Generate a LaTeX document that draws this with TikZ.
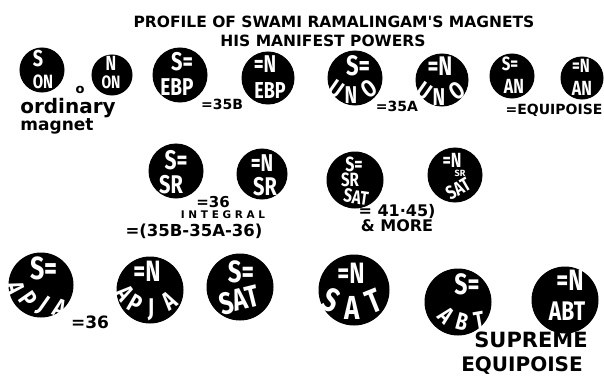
\documentclass[tikz,border=0pt]{standalone}
\usepackage{graphicx}
\usepackage{fontspec}
\setmainfont{Fira Sans}
\newfontfamily\lblfont{DejaVu Sans}
\newcommand{\tallt}[1]{\scalebox{1}[1.28]{#1}}
\begin{document}
\begin{tikzpicture}[x=1pt,y=1pt,
  magnet/.style={circle, fill=black, draw=black, line width=1pt, inner sep=0pt, minimum size=#1},
  wt/.style={text=white, font=\bfseries\fontsize{#1}{#1}\selectfont, inner sep=0pt},
  wt/.default=15,
  lbl/.style={text=black, font=\lblfont\bfseries\fontsize{#1}{#1}\selectfont, inner sep=0pt},
  lbl/.default=12]
\useasboundingbox (0,0) rectangle (604,381);
\fill[white] (0,0) rectangle (604,381);
% title
\node[lbl=15.5] (title1) at (334,359) {PROFILE OF SWAMI RAMALINGAM'S MAGNETS};
\node[lbl=15.5] (title2) at (323,340) {HIS MANIFEST POWERS};
% ---- row 1
\node[magnet=44pt] (SON) at (42,311) {};
\node[wt=18] (SONa) at (38,322) {\tallt{S}};
\node[wt=15] (SONb) at (43,299) {\tallt{ON}};
\node[magnet=40pt] (NON) at (112,306) {};
\node[wt=16] (NONa) at (111,318) {\tallt{N}};
\node[wt=14] (NONb) at (111,299) {\tallt{ON}};
\node[lbl=13] (o) at (80,291) {o};
\node[lbl=20] (ord) at (68,273) {ordinary};
\node[lbl=17] (mag) at (57,255) {magnet};
\node[magnet=54pt] (SEBP) at (180,306) {};
\node[wt=20] (SEBPa) at (182,319) {\tallt{S=}};
\node[wt=19] (SEBPb) at (177,294) {\tallt{EBP}};
\node[lbl=14] (l35B) at (222,277) {=35B};
\node[magnet=52pt] (NEBP) at (268,303) {};
\node[wt=19] (NEBPa) at (265,317) {\tallt{=N}};
\node[wt=18] (NEBPb) at (270,290) {\tallt{EBP}};
\node[magnet=54pt] (SUNO) at (355,303) {};
\node[wt=22] (SUNOa) at (358,315) {\tallt{S=}};
\foreach \ch/\px/\py/\rt [count=\i] in {U/336/292/-35, N/351/286/0, O/369/292/35}
  \node[rotate=\rt, wt=19] (SUNO-\i) at (\px,\py) {\tallt{\ch}};
\node[lbl=14] (l35A) at (397,275) {=35A};
\node[magnet=52pt] (NUNO) at (442,301) {};
\node[wt=21] (NUNOa) at (440,315) {\tallt{=N}};
\foreach \ch/\px/\py/\rt [count=\i] in {U/424/290/-35, N/439/284/0, O/457/290/35}
  \node[rotate=\rt, wt=19] (NUNO-\i) at (\px,\py) {\tallt{\ch}};
\node[magnet=44pt] (SAN) at (512,305) {};
\node[wt=15] (SANa) at (510,317) {\tallt{S=}};
\node[wt=16] (SANb) at (514,295) {\tallt{AN}};
\node[magnet=42pt] (NAN) at (582,303) {};
\node[wt=15] (NANa) at (581,315) {\tallt{=N}};
\node[wt=16] (NANb) at (582,293) {\tallt{AN}};
\node[lbl=14] (leq) at (554,271) {=EQUIPOISE};
% ---- row 2
\node[magnet=54pt] (SSR) at (176,210) {};
\node[wt=21] (SSRa) at (176,221) {\tallt{S=}};
\node[wt=20] (SSRb) at (171,196) {\tallt{SR}};
\node[magnet=50pt] (NSR) at (262,207) {};
\node[wt=19] (NSRa) at (262,218) {\tallt{=N}};
\node[wt=20] (NSRb) at (265,194) {\tallt{SR}};
\node[lbl=15] (l36) at (213,179) {=36};
\node[lbl=10.5] (lint) at (223,166) {I N T E G R A L};
\node[lbl=16.5] (lsum) at (194,150) {=(35B-35A-36)};
\node[magnet=56pt] (SSRSAT) at (355,201) {};
\node[wt=16] (SSRSATa) at (354,217) {\tallt{S=}};
\node[wt=15] (SSRSATb) at (350,201) {\tallt{SR}};
\node[rotate=-8, wt=15] (SSRSATc) at (356,184) {\tallt{SAT}};
\node[magnet=54pt] (NSRSAT) at (455,206) {};
\node[wt=16] (NSRSATa) at (452,221) {\tallt{=N}};
\node[wt=9] (NSRSATb) at (460,208) {SR};
\node[rotate=30, wt=15] (NSRSATc) at (458,192) {\tallt{SAT}};
\node[lbl=16] (l4145) at (397,170) {= 41·45)};
\node[lbl=16] (lmore) at (397,155) {\& MORE};
% ---- row 3
\node[magnet=64pt] (SAPJA) at (41,96) {};
\node[wt=25] (SAPJAa) at (44,113) {\tallt{S=}};
\foreach \ch/\px/\py/\rt [count=\i] in {A/16/93/-75, P/28/82/-55, J/43/75/-35, A/60/73/-20}
  \node[rotate=\rt, wt=20] (SAPJA-\i) at (\px,\py) {\tallt{\ch}};
\node[lbl=17] (l36b) at (90,59) {=36};
\node[magnet=66pt] (NAPJA) at (150,91) {};
\node[wt=23] (NAPJAa) at (147,110) {\tallt{=N}};
\foreach \ch/\px/\py/\rt [count=\i] in {A/125/88/-55, P/135/77/-30, J/151/71/0, A/169/80/35}
  \node[rotate=\rt, wt=20] (NAPJA-\i) at (\px,\py) {\tallt{\ch}};
\node[magnet=66pt] (SSAT) at (240,94) {};
\node[wt=24] (SSATa) at (241,109) {\tallt{S=}};
\node[rotate=14, wt=24] (SSATb) at (239,81) {\tallt{SAT}};
\node[magnet=70pt] (NSAT) at (354,91) {};
\node[wt=23] (NSATa) at (351,108) {\tallt{=N}};
\foreach \ch/\px/\py/\rt [count=\i] in {S/331/81/-25, A/352/73/0, T/374/80/22}
  \node[rotate=\rt, wt=26] (NSAT-\i) at (\px,\py) {\tallt{\ch}};
\node[magnet=66pt] (SABT) at (458,79) {};
\node[wt=23] (SABTa) at (467,97) {\tallt{S=}};
\foreach \ch/\px/\py/\rt [count=\i] in {A/446/65/-45, B/462/59/-15, T/479/61/10}
  \node[rotate=\rt, wt=19] (SABT-\i) at (\px,\py) {\tallt{\ch}};
\node[magnet=66pt] (NABT) at (565,81) {};
\node[wt=23] (NABTa) at (570,101) {\tallt{=N}};
\node[wt=21] (NABTb) at (567,70) {\tallt{ABT}};
\node[lbl=21] (lsup) at (531,41) {SUPREME};
\node[lbl=20] (lequ) at (522,15) {EQUIPOISE};
\end{tikzpicture}
\end{document}
